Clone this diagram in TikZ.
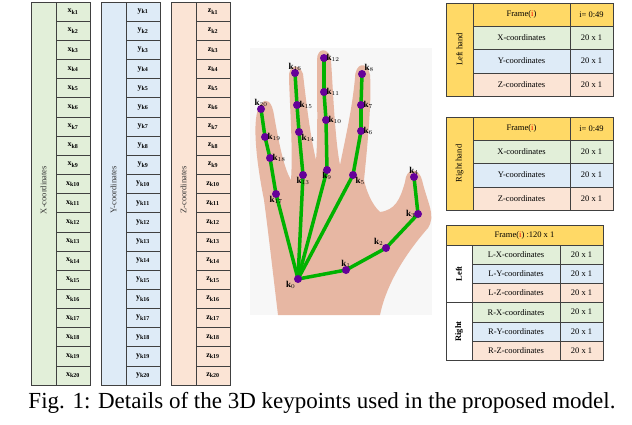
\documentclass[tikz,border=0pt]{standalone}
\usepackage{fontspec}
\setmainfont{Liberation Serif}
\begin{document}
\begin{tikzpicture}[x=1pt,y=-1pt,
 cellb/.style={draw=black!75,line width=0.6pt},
 ctext/.style={font=\fontsize{8}{9}\selectfont\bfseries},
 ttext/.style={font=\fontsize{8.5}{9}\selectfont},
 kp/.style={circle,fill=violet!80!blue,inner sep=0pt,minimum size=8pt},
 kl/.style={font=\fontsize{9}{10}\selectfont\bfseries,inner sep=1.5pt},
 bone/.style={draw=green!70!black,line width=3.5pt}]
\definecolor{cg}{HTML}{E2EFD9}\definecolor{cb}{HTML}{DEEBF7}
\definecolor{co}{HTML}{FBE4D5}\definecolor{cy}{HTML}{FFD966}
\definecolor{skin}{HTML}{E7B7A3}
\useasboundingbox (0,0) rectangle (632,424);
% left columns
\foreach \x/\c/\v/\lab [count=\n] in {31/cg/x/X,101/cb/y/Y,171/co/z/Z}{
 \fill[\c] (\x,2) rectangle (\x+59,385);
 \draw[cellb] (\x,2) rectangle (\x+59,385);
 \draw[cellb] (\x+25,2) -- (\x+25,385);
 \node[rotate=90,font=\fontsize{8.5}{9}\selectfont,text=black!80] (lab\n) at (\x+12.5,190) {\lab-coordinates};
 \foreach \i in {1,...,20}{
  \pgfmathsetmacro\yy{2+(\i-1)*19.15}
  \draw[cellb] (\x+25,\yy) -- (\x+59,\yy);
  \node[ctext] (c\n-\i) at (\x+42,\yy+9.6) {$\mathbf{\v}_{\mathbf{k\i}}$};
 }
}
% hand photo
\fill[black!3] (250,48) rectangle (432,315);
\fill[skin] (262,103) .. controls (252,110) and (254,150) .. (264,200)
 .. controls (268,230) and (272,265) .. (278,315) -- (380,315)
 .. controls (385,290) and (400,260) .. (428,228)
 .. controls (436,215) and (428,205) .. (422,180)
 .. controls (418,166) and (406,168) .. (405,182)
 .. controls (400,200) and (395,210) .. (380,212)
 .. controls (372,205) and (366,190) .. (364,180)
 .. controls (367,150) and (372,100) .. (370,75)
 .. controls (367,60) and (355,63) .. (355,78)
 .. controls (352,110) and (345,140) .. (340,165)
 .. controls (335,140) and (333,90) .. (331,60)
 .. controls (329,47) and (317,47) .. (317,60)
 .. controls (317,95) and (318,140) .. (316,160)
 .. controls (310,135) and (306,100) .. (303,74)
 .. controls (299,62) and (288,65) .. (289,78)
 .. controls (290,110) and (293,150) .. (291,180)
 .. controls (285,170) and (280,150) .. (274,115)
 .. controls (272,101) and (266,98) .. (262,103) -- cycle;
\foreach \n/\x/\y in {0/298/279,1/346/270,2/386/248,3/418/214,4/414/177,5/353/175,6/361/131,7/361/105,8/362/74,9/327/170,10/326/120,11/324/92,12/324/58,13/303/175,14/299/132,15/297/105,16/295/73,17/276/194,18/270/158,19/265/137,20/261/109}
 \coordinate (k\n) at (\x,\y);
\foreach \a/\b in {0/1,1/2,2/3,3/4,0/5,5/6,6/7,7/8,0/9,9/10,10/11,11/12,0/13,13/14,14/15,15/16,0/17,17/18,18/19,19/20}
 \draw[bone] (k\a) -- (k\b);
\foreach \n in {0,...,20} \node[kp] (p\n) at (k\n) {};
\foreach \n/\pos in {0/below left,1/above,2/above left,3/left,4/above,5/below right,6/right,7/right,8/above right,9/below,10/right,11/right,12/right,13/below,14/below right,15/right,16/above,17/below,18/right,19/right,20/above}
 \node[kl,\pos=1pt] at (p\n) {k$_{\n}$};
% tables 1 and 2
\foreach \t/\y/\lab in {1/3/Left hand,2/117/Right hand}{
 \fill[cy] (446,\y) rectangle (613,\y+23);
 \fill[cy] (446,\y) rectangle (473,\y+93);
 \fill[cg] (473,\y+23) rectangle (613,\y+46);
 \fill[cb] (473,\y+46) rectangle (613,\y+70);
 \fill[co] (473,\y+70) rectangle (613,\y+93);
 \draw[cellb] (446,\y) rectangle (613,\y+93);
 \draw[cellb] (473,\y) -- (473,\y+93) (570,\y) -- (570,\y+93);
 \foreach \r in {23,46,70} \draw[cellb] (473,\y+\r) -- (613,\y+\r);
 \node[rotate=90,ttext] (tl\t) at (459.5,\y+46.5) {\lab};
 \node[ttext] (tf\t) at (521.5,\y+11.5) {Frame(\textcolor{red}{i})};
 \node[ttext] (ti\t) at (591.5,\y+11.5) {i= 0:49};
 \node[ttext] (tx\t) at (521.5,\y+34.5) {X-coordinates};
 \node[ttext] (ty\t) at (521.5,\y+58) {Y-coordinates};
 \node[ttext] (tz\t) at (521.5,\y+81.5) {Z-coordinates};
 \foreach \r/\q in {34.5/a,58/b,81.5/c} \node[ttext] (td\t\q) at (591.5,\y+\r) {20 x 1};
}
% table 3
\fill[cy] (446,225) rectangle (603,245);
\foreach \i/\c/\s in {0/cg/L-X,1/cb/L-Y,2/co/L-Z,3/cg/R-X,4/cb/R-Y,5/co/R-Z}{
 \pgfmathsetmacro\yy{245+\i*19.2}
 \fill[\c] (472,\yy) rectangle (603,\yy+19.2);
 \draw[cellb] (472,\yy) -- (603,\yy);
 \node[ttext] (s\i) at (516,\yy+9.6) {\s-coordinates};
 \node[ttext] (d\i) at (581.5,\yy+9.6) {20 x 1};
}
\draw[cellb] (446,225) rectangle (603,360.2);
\draw[cellb] (446,245) -- (603,245) (446,302.6) -- (472,302.6) (472,245) -- (472,360.2) (560,245) -- (560,360.2);
\node[ttext] (h3) at (524.5,235) {Frame(\textcolor{red}{i}) :120 x 1};
\node[rotate=90,font=\fontsize{8.5}{9}\selectfont\bfseries] (lft) at (459,273.8) {Left};
\node[rotate=90,font=\fontsize{8.5}{9}\selectfont\bfseries] (rgt) at (459,331.4) {Right};
% caption
\node[font=\fontsize{23}{25}\selectfont] (cap) at (322,403) {Fig. 1: Details of the 3D keypoints used in the proposed model.};
\end{tikzpicture}
\end{document}
